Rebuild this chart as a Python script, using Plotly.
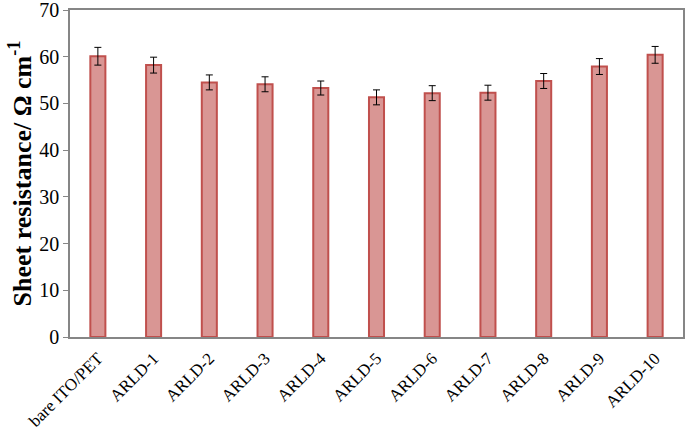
import plotly.graph_objects as go

categories = ["bare ITO/PET", "ARLD-1", "ARLD-2", "ARLD-3", "ARLD-4", "ARLD-5",
              "ARLD-6", "ARLD-7", "ARLD-8", "ARLD-9", "ARLD-10"]
values = [60.1, 58.2, 54.5, 54.1, 53.3, 51.3, 52.2, 52.3, 54.8, 57.9, 60.4]
errors = [1.9, 1.7, 1.6, 1.6, 1.5, 1.6, 1.6, 1.6, 1.6, 1.7, 1.8]
y_ticks = [0, 10, 20, 30, 40, 50, 60, 70]

fig = go.Figure()
fig.add_trace(go.Bar(
    x=categories, y=values, width=0.27,
    marker=dict(color="#D99694", line=dict(color="#C0504D", width=2)),
    error_y=dict(type="data", array=errors, color="#000000", thickness=1, width=3.5),
))

font_family = "Liberation Serif"
fig.update_layout(
    width=685, height=431,
    margin=dict(l=70, r=2, t=10, b=94),
    plot_bgcolor="white", paper_bgcolor="white",
    showlegend=False,
    font=dict(family=font_family, color="black"),
    xaxis=dict(
        automargin=False,
        tickangle=-45, tickfont=dict(size=17, family=font_family),
        showline=True, linecolor="#868686", linewidth=1.5, mirror=True,
        ticks="outside", ticklen=3, tickcolor="rgba(0,0,0,0)", showgrid=False,
        ticklabeloverflow="allow",
    ),
    yaxis=dict(
        automargin=False,
        range=[0, 70], tickvals=y_ticks,
        tickfont=dict(size=20, family=font_family),
        ticklabeloverflow="allow",
        showline=True, linecolor="#868686", linewidth=1.5, mirror=True,
        ticks="outside", ticklen=5, tickcolor="#868686",
        showgrid=False, zeroline=False,
        title=dict(text="<b>Sheet resistance/ Ω cm<sup>-1</sup></b>",
                   font=dict(size=26, family=font_family), standoff=0),
    ),
)
fig.write_html("out.html", config={"displayModeBar": False},
               post_script="document.body.style.margin='0';document.body.style.padding='0';")
